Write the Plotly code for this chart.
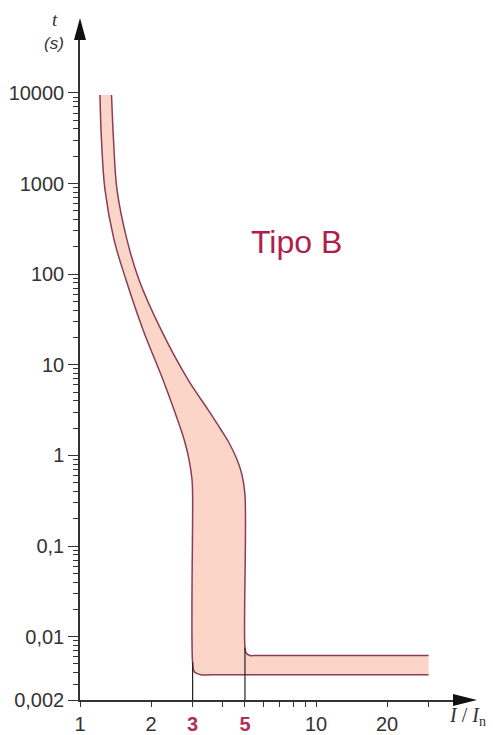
import math
import plotly.graph_objects as go

# ---- data ----
left_I = [1.215, 1.233, 1.276, 1.394, 1.566, 1.849, 2.247, 2.502, 2.679, 2.786, 2.897, 2.983, 3.0,
          3.0, 3.05, 3.25, 3.6, 10, 20, 30]
left_t = [9500, 3034, 852, 239, 86.8, 24.4, 6.85, 3.20, 1.92, 1.38, 0.90, 0.54, 0.37,
          0.0052, 0.0041, 0.0038, 0.0038, 0.0038, 0.0038, 0.0038]

right_I = [1.360, 1.387, 1.435, 1.582, 1.778, 2.204, 2.869, 3.486, 3.958, 4.279, 4.627, 4.858, 5.0,
           5.0, 5.06, 5.25, 5.6, 10, 20, 30]
right_t = [9500, 3034, 852, 239, 86.8, 24.4, 6.85, 3.20, 1.92, 1.38, 0.90, 0.61, 0.37,
           0.0076, 0.0066, 0.0062, 0.0062, 0.0062, 0.0062, 0.0062]

marker_I = [3, 5]
marker_t_top = [0.0052, 0.0076]
t_min = 0.002

y_tickvals = [10000, 1000, 100, 10, 1, 0.1, 0.01, 0.002]
y_ticktext = ["10000", "1000", "100", "10", "1", "0,1", "0,01", "0,002"]
y_minor = [m * 10 ** e for e in range(-3, 4) for m in range(2, 10)]
y_minor = [v for v in y_minor if 0.002 < v < 10000]

x_tickvals = [1, 2, 3, 5, 10, 20]
x_ticktext = ["1", "2",
              "<b><span style='color:#b0305a'>3</span></b>",
              "<b><span style='color:#b0305a'>5</span></b>",
              "10", "20"]
x_minor = [4, 6, 7, 8, 9, 30]

label_text = "Tipo B"
label_I, label_t = 8.3, 228

FILL = "#fbd5c8"
LINE = "#8a3d55"
AXIS = "#333333"
CRIMSON = "#b01e4e"

fig = go.Figure()

# boundary curves; the band is filled between them (endpoints joined by straight lines)
fig.add_trace(go.Scatter(
    x=left_I, y=left_t, mode="lines",
    line=dict(color=LINE, width=1.5, shape="spline", smoothing=1.0),
    hoverinfo="skip", showlegend=False))
fig.add_trace(go.Scatter(
    x=right_I, y=right_t, mode="lines", fill="tonexty", fillcolor=FILL,
    line=dict(color=LINE, width=1.5, shape="spline", smoothing=1.0),
    hoverinfo="skip", showlegend=False))

# black markers at 3 and 5
for xi, ti in zip(marker_I, marker_t_top):
    fig.add_trace(go.Scatter(
        x=[xi, xi], y=[t_min, ti], mode="lines",
        line=dict(color="#222222", width=1.2), showlegend=False))

fig.add_annotation(x=math.log10(label_I), y=math.log10(label_t), text=label_text,
                   showarrow=False, xanchor="center", yanchor="middle",
                   font=dict(size=32, color=CRIMSON, family="Arial, Liberation Sans"))

# axis titles
fig.add_annotation(xref="paper", yref="paper", x=-0.066, y=1.031, text="<i>t</i>",
                   showarrow=False, xanchor="center", yanchor="middle",
                   font=dict(size=19, color=AXIS, family="Liberation Serif"))
fig.add_annotation(xref="paper", yref="paper", x=-0.070, y=0.994, text="<i>(s)</i>",
                   showarrow=False, xanchor="center", yanchor="middle",
                   font=dict(size=17, color=AXIS, family="Arial, Liberation Sans"))
fig.add_annotation(xref="paper", yref="paper", x=1.040, y=-0.025,
                   text="<i>I</i> / <i>I</i><sub>n</sub>",
                   showarrow=False, xanchor="center", yanchor="middle",
                   font=dict(size=20, color=AXIS, family="Liberation Serif"))

# axis arrowheads
fig.add_shape(type="path", xref="paper", yref="paper",
              path="M -0.0161 1.0 L 0 1.0333 L 0.0161 1.0 Z",
              fillcolor="#111111", line=dict(width=0))
fig.add_shape(type="path", xref="paper", yref="paper",
              path="M 1.0 -0.0091 L 1.0643 0 L 1.0 0.0091 Z",
              fillcolor="#111111", line=dict(width=0))

font_ticks = dict(size=20, color=AXIS, family="Arial, Liberation Sans")

fig.update_xaxes(type="log", range=[0, 1.5805], showgrid=False, zeroline=False,
                 automargin=False,
                 showline=True, linecolor=AXIS, linewidth=1.5,
                 tickmode="array", tickvals=x_tickvals, ticktext=x_ticktext,
                 ticks="outside", ticklen=5, tickcolor=AXIS, tickwidth=1,
                 tickfont=font_ticks,
                 minor=dict(tickmode="array", tickvals=x_minor, ticks="outside",
                            ticklen=5, tickcolor=AXIS, tickwidth=1, showgrid=False))
fig.update_yaxes(type="log", range=[math.log10(0.002), 4.584], showgrid=False, zeroline=False,
                 automargin=False,
                 showline=True, linecolor=AXIS, linewidth=1.5,
                 tickmode="array", tickvals=y_tickvals, ticktext=y_ticktext,
                 ticks="outside", ticklen=10, tickcolor=AXIS, tickwidth=1,
                 tickfont=font_ticks,
                 minor=dict(tickmode="array", tickvals=y_minor, ticks="outside",
                            ticklen=5, tickcolor=AXIS, tickwidth=1, showgrid=False))

fig.update_layout(width=493, height=735, autosize=False,
                  margin=dict(l=80, r=40, t=40, b=35),
                  paper_bgcolor="white", plot_bgcolor="white",
                  showlegend=False)

fig.write_html("out.html", config={"displayModeBar": False},
               post_script="document.body.style.margin='0';")
